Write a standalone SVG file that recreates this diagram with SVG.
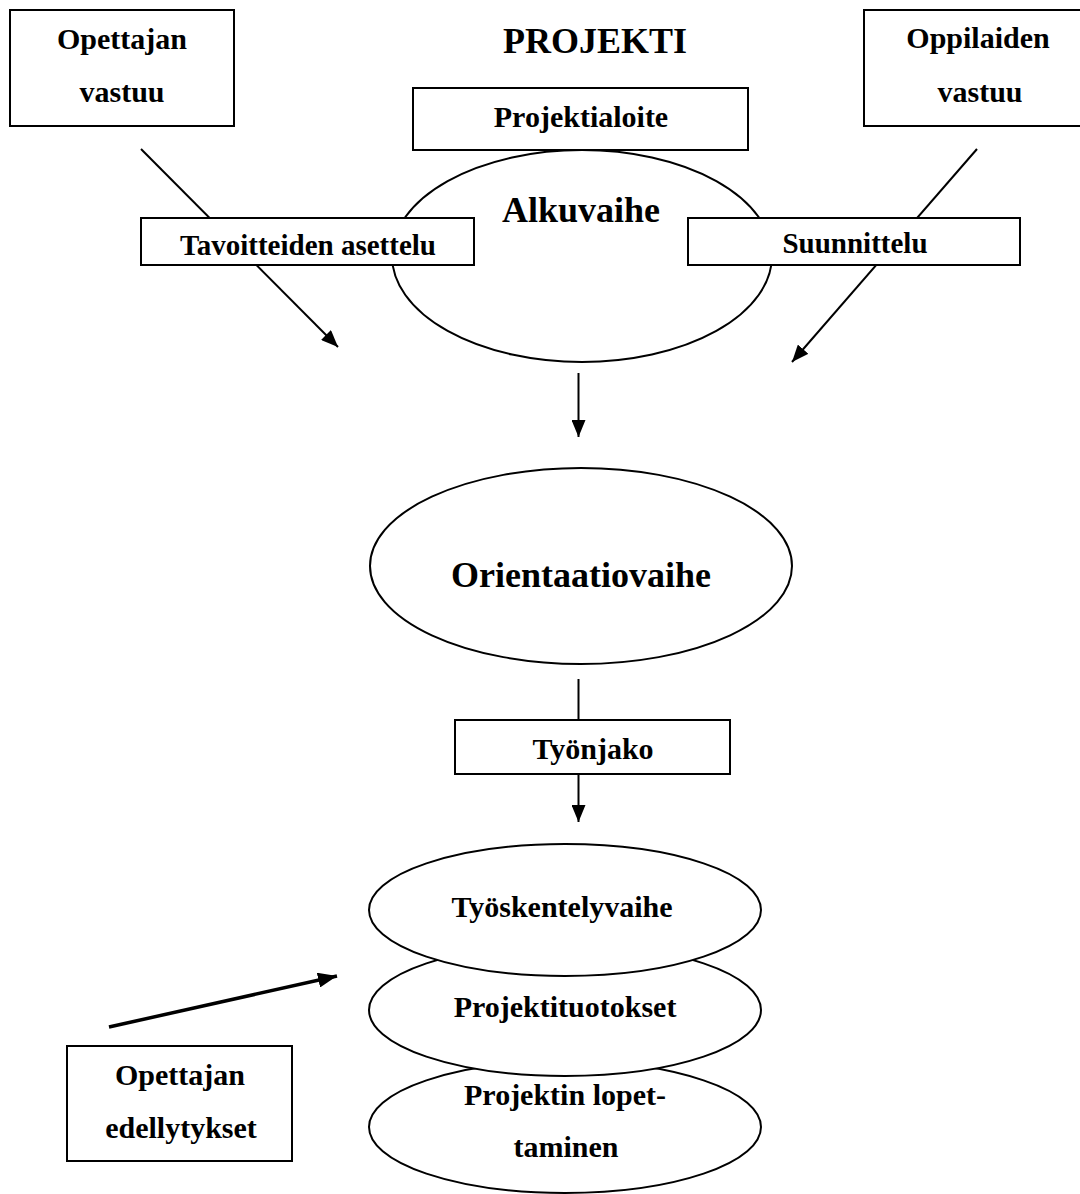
<svg xmlns="http://www.w3.org/2000/svg" width="1080" height="1194" viewBox="0 0 1080 1194">
<defs>
<style>
.box{fill:#fff;stroke:#000;stroke-width:2}
.ell{fill:#fff;stroke:#000;stroke-width:2}
.ln{stroke:#000;stroke-width:2;fill:none}
.thick{stroke:#000;stroke-width:3.5;fill:none}
text{font-family:"Liberation Serif","Times New Roman",serif;font-weight:bold;fill:#000;text-anchor:middle}
.t{font-size:30px}
.s{font-size:29px}
.big{font-size:36px}
</style>
<marker id="ah" viewBox="0 0 17 14" refX="17" refY="7" markerWidth="17" markerHeight="14" markerUnits="userSpaceOnUse" orient="auto">
<path d="M0,0 L17,7 L0,14 Z" fill="#000"/>
</marker>
<marker id="ahb" viewBox="0 0 19 15" refX="19" refY="7.5" markerWidth="19" markerHeight="15" markerUnits="userSpaceOnUse" orient="auto">
<path d="M0,0 L19,7.5 L0,15 Z" fill="#000"/>
</marker>
</defs>
<rect width="1080" height="1194" fill="#fff"/>

<g id="connectors">
<line class="ln" x1="141" y1="149" x2="338" y2="347" marker-end="url(#ah)"/>
<line class="ln" x1="977" y1="149" x2="792" y2="362" marker-end="url(#ah)"/>
<line class="ln" x1="578.5" y1="373" x2="578.5" y2="437" marker-end="url(#ah)"/>
<line class="ln" x1="578.5" y1="679" x2="578.5" y2="720"/>
<line class="ln" x1="578.5" y1="774" x2="578.5" y2="822" marker-end="url(#ah)"/>
<line class="thick" x1="109" y1="1027" x2="337" y2="976" marker-end="url(#ahb)"/>
</g>

<g id="title"><text class="big" x="595" y="53">PROJEKTI</text></g>

<g id="opettajan-vastuu">
<rect class="box" x="10" y="10" width="224" height="116"/>
<text class="t" x="122" y="49">Opettajan</text>
<text class="t" x="122" y="102">vastuu</text>
</g>

<g id="oppilaiden-vastuu">
<rect class="box" x="864" y="10" width="230" height="116"/>
<text class="t" x="978" y="48">Oppilaiden</text>
<text class="t" x="980" y="102">vastuu</text>
</g>

<g id="alkuvaihe">
<ellipse class="ell" cx="582" cy="256" rx="190" ry="106"/>
<text class="big" x="581" y="222">Alkuvaihe</text>
</g>

<g id="projektialoite">
<rect class="box" x="413" y="88" width="335" height="62"/>
<text class="t" x="581" y="127">Projektialoite</text>
</g>

<g id="tavoitteiden-asettelu">
<rect class="box" x="141" y="218" width="333" height="47"/>
<text class="s" x="308" y="255">Tavoitteiden asettelu</text>
</g>

<g id="suunnittelu">
<rect class="box" x="688" y="218" width="332" height="47"/>
<text class="s" x="855" y="253">Suunnittelu</text>
</g>

<g id="orientaatiovaihe">
<ellipse class="ell" cx="581" cy="566" rx="211" ry="98"/>
<text class="big" x="581" y="587">Orientaatiovaihe</text>
</g>

<g id="tyonjako">
<rect class="box" x="455" y="720" width="275" height="54"/>
<text class="t" x="593" y="759">Työnjako</text>
</g>

<g id="projektin-lopettaminen">
<ellipse class="ell" cx="565" cy="1127" rx="196" ry="66"/>
<text class="t" x="565" y="1105">Projektin lopet-</text>
<text class="t" x="566" y="1157">taminen</text>
</g>

<g id="projektituotokset">
<ellipse class="ell" cx="565" cy="1010" rx="196" ry="66"/>
<text class="t" x="565" y="1017">Projektituotokset</text>
</g>

<g id="tyoskentelyvaihe">
<ellipse class="ell" cx="565" cy="910" rx="196" ry="66"/>
<text class="t" x="562" y="917">Työskentelyvaihe</text>
</g>

<g id="opettajan-edellytykset">
<rect class="box" x="67" y="1046" width="225" height="115"/>
<text class="t" x="180" y="1085">Opettajan</text>
<text class="t" x="181" y="1138">edellytykset</text>
</g>
</svg>
